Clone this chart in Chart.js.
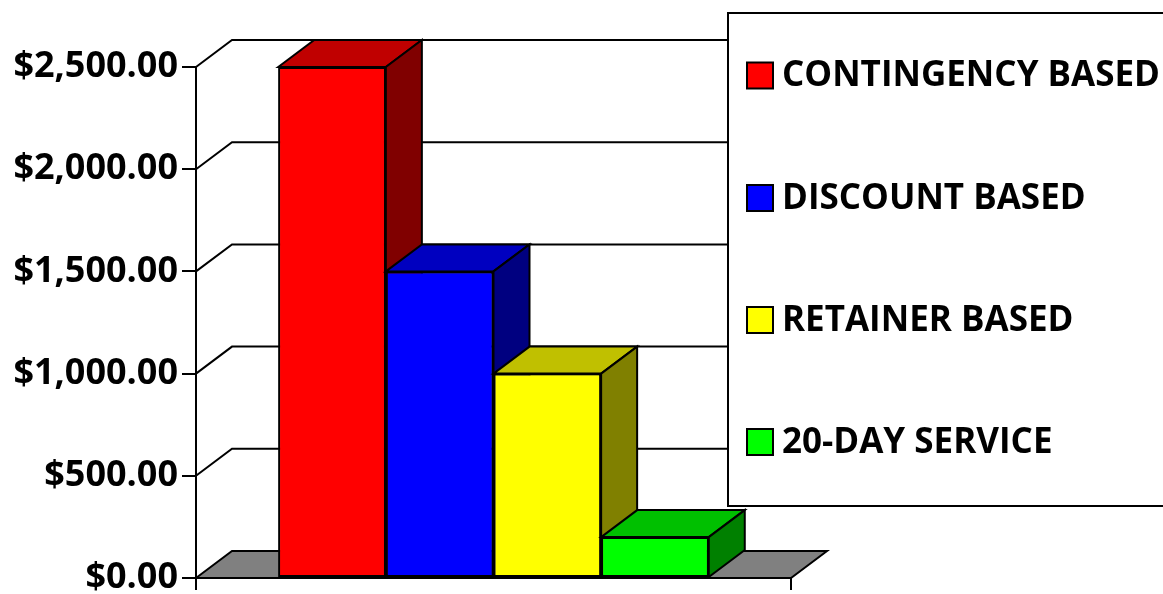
<!DOCTYPE html>
<html>
<head>
<meta charset="utf-8">
<script src="https://cdn.jsdelivr.net/npm/chart.js@4.4.1/dist/chart.umd.min.js"></script>
<style>
html,body{margin:0;padding:0;background:#fff;}
canvas{display:block;}
</style>
</head>
<body>
<canvas id="c" width="1163" height="594"></canvas>
<script>
// ---- data ----
const categories = ['Fee structure'];
const seriesLabels = ['CONTINGENCY BASED', 'DISCOUNT BASED', 'RETAINER BASED', '20-DAY SERVICE'];
const seriesValues = [2500, 1500, 1000, 200];
const yTickValues = [0, 500, 1000, 1500, 2000, 2500];

// ---- styles ----
const frontColors = ['#FF0000', '#0000FF', '#FFFF00', '#00FF00'];
const topColors = ['#C00000', '#0000C0', '#C0C000', '#00C000'];
const sideColors = ['#800000', '#000080', '#808000', '#008000'];
const FONT_FAMILY = '"Open Sans", Lato, sans-serif';
const FONT_SIZE = 35;
const TICK_FONT_SIZE = 36;
const DX = 36, DY = 27;

function money(v) {
  return '$' + Number(v).toLocaleString('en-US', {minimumFractionDigits: 2, maximumFractionDigits: 2});
}

function poly(ctx, pts, fill) {
  ctx.beginPath();
  ctx.moveTo(pts[0][0], pts[0][1]);
  for (let k = 1; k < pts.length; k++) ctx.lineTo(pts[k][0], pts[k][1]);
  ctx.closePath();
  if (fill) { ctx.fillStyle = fill; ctx.fill(); }
  ctx.stroke();
}

const threeD = {
  id: 'threeD',
  beforeDatasetsDraw(chart) {
    const ctx = chart.ctx, a = chart.chartArea, ys = chart.scales.y;
    ctx.save();
    ctx.strokeStyle = '#000';
    ctx.lineWidth = 2;
    ctx.lineJoin = 'miter';
    yTickValues.forEach(v => {
      if (v === 0) return;
      const py = ys.getPixelForValue(v);
      ctx.beginPath();
      ctx.moveTo(a.left, py);
      ctx.lineTo(a.left + DX, py - DY);
      ctx.lineTo(a.right + DX, py - DY);
      ctx.stroke();
    });
    const b = ys.getPixelForValue(0);
    poly(ctx, [[a.left, b], [a.left + DX, b - DY], [a.right + DX, b - DY], [a.right, b]], '#808080');
    ctx.beginPath();
    ctx.moveTo(a.left, b); ctx.lineTo(a.left, b + 12);
    ctx.moveTo(a.right, b); ctx.lineTo(a.right, b + 12);
    ctx.stroke();
    ctx.restore();
  },
  afterDatasetsDraw(chart) {
    const ctx = chart.ctx;
    // paint each bar left to right: front (library element), then top and side faces
    chart.data.datasets.forEach((ds, i) => {
      const meta = chart.getDatasetMeta(i);
      const el = meta.data[0];
      if (!el) return;
      ctx.save();
      el.draw(ctx, chart.chartArea);
      ctx.restore();
      const p = el.getProps(['x', 'y', 'base', 'width'], true);
      const l = p.x - p.width / 2, r = p.x + p.width / 2;
      ctx.save();
      ctx.strokeStyle = '#000';
      ctx.lineWidth = 2;
      ctx.lineJoin = 'miter';
      poly(ctx, [[l, p.y], [l + DX, p.y - DY], [r + DX, p.y - DY], [r, p.y]], topColors[i]);
      poly(ctx, [[r, p.y], [r + DX, p.y - DY], [r + DX, p.base - DY], [r, p.base]], sideColors[i]);
      ctx.restore();
    });
  },
  afterDraw(chart) {
    const ctx = chart.ctx;
    ctx.save();
    ctx.lineWidth = 2;
    ctx.strokeStyle = '#000';
    ctx.fillStyle = '#fff';
    ctx.fillRect(728, 13, 460, 493);
    ctx.strokeRect(728, 13, 460, 493);
    const centers = [75.5, 198, 320, 442];
    ctx.font = 'bold ' + FONT_SIZE + 'px ' + FONT_FAMILY;
    ctx.textBaseline = 'middle';
    ctx.textAlign = 'left';
    chart.data.datasets.forEach((ds, i) => {
      const cy = centers[i];
      ctx.fillStyle = frontColors[i];
      ctx.fillRect(747, cy - 13, 26, 26);
      ctx.strokeRect(747, cy - 13, 26, 26);
      ctx.fillStyle = '#000';
      ctx.fillText(ds.label, 782, cy + 1);
    });
    ctx.restore();
  }
};

new Chart(document.getElementById('c'), {
  type: 'bar',
  data: {
    labels: categories,
    datasets: seriesLabels.map((label, i) => ({
      label: label,
      data: [seriesValues[i]],
      backgroundColor: frontColors[i],
      borderColor: '#000',
      borderWidth: 2,
      borderSkipped: false
    }))
  },
  options: {
    responsive: false,
    devicePixelRatio: 1,
    animation: false,
    layout: {padding: {top: 67, bottom: 16, right: 372, left: 0}},
    datasets: {bar: {categoryPercentage: 0.7236, barPercentage: 1}},
    plugins: {legend: {display: false}, tooltip: {enabled: false}},
    scales: {
      x: {display: false},
      y: {
        min: 0,
        max: 2500,
        afterBuildTicks(scale) { scale.ticks = yTickValues.map(v => ({value: v})); },
        afterFit(scale) { scale.width = 196; scale.paddingTop = 0; scale.paddingBottom = 0; },
        ticks: {
          color: '#000',
          padding: 4,
          font: {family: FONT_FAMILY, weight: 'bold', size: TICK_FONT_SIZE},
          callback: v => money(v)
        },
        grid: {drawOnChartArea: false, drawTicks: true, tickLength: 14, color: '#000', lineWidth: 2},
        border: {display: true, color: '#000', width: 2}
      }
    }
  },
  plugins: [threeD]
});
</script>
</body>
</html>
